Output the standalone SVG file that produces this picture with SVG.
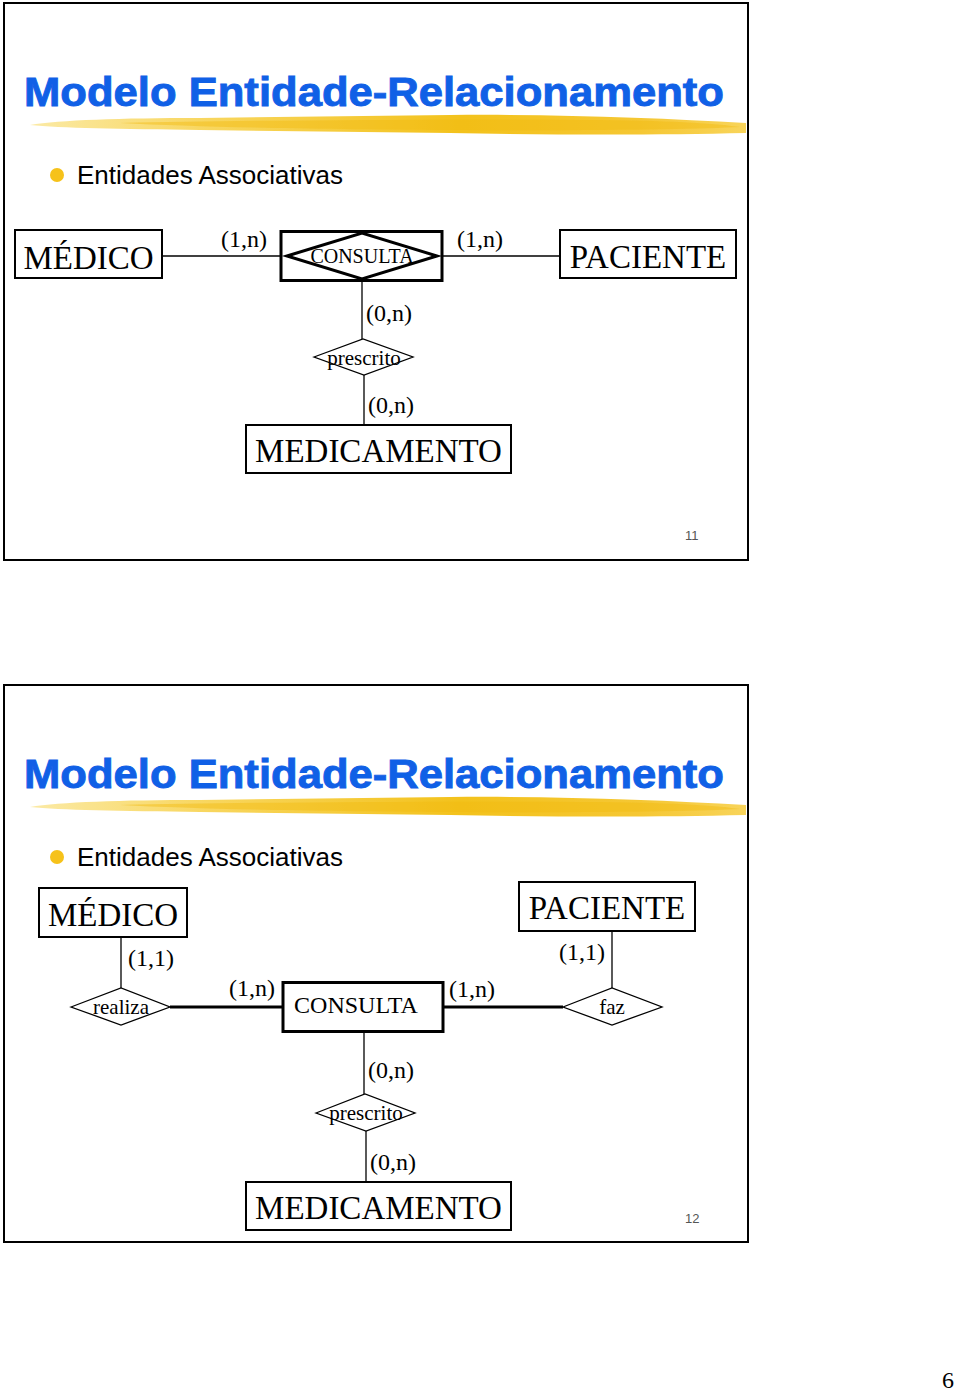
<svg xmlns="http://www.w3.org/2000/svg" width="960" height="1394" viewBox="0 0 960 1394">
<defs>
<linearGradient id="brushG" x1="0" y1="0" x2="1" y2="0">
<stop offset="0" stop-color="#fbeaa6"/>
<stop offset="0.25" stop-color="#f8d65e"/>
<stop offset="0.6" stop-color="#f3c21c"/>
<stop offset="0.85" stop-color="#f5c733"/>
<stop offset="1" stop-color="#f8d45a"/>
</linearGradient>
<g id="brush">
<path d="M30,125 C60,120 120,118 200,118 L450,115 C560,114 660,118 746,123 L746,133 C660,135 560,135 450,133 L200,130 C120,129 60,128 30,125 Z" fill="url(#brushG)"/>
<path d="M120,123 C250,120 450,119 600,120 C680,121 720,124 740,127 C700,129 600,131 450,130 C300,129 200,127 120,123 Z" fill="#f1bb10" opacity="0.45"/>
</g>
</defs>
<style>
.frame{fill:#fff;stroke:#000;stroke-width:2}
.title{font-family:"Liberation Sans",Arial,sans-serif;font-weight:bold;font-size:40px;fill:#1060e6;stroke:#1060e6;stroke-width:0.9}
.bul{font-family:"Liberation Sans",Arial,sans-serif;font-size:26px;fill:#000}
.dot{fill:#f6c21a}
.ent{fill:#fff;stroke:#000;stroke-width:2}
.entb{fill:#fff;stroke:#000;stroke-width:3}
.rel{fill:#fff;stroke:#000;stroke-width:1.3}
.relb{fill:none;stroke:#000;stroke-width:3}
.big{font-family:"Liberation Serif","Times New Roman",serif;font-size:33px;fill:#000;text-anchor:middle}
.mid{font-family:"Liberation Serif","Times New Roman",serif;font-size:21px;fill:#000;text-anchor:middle}
.card{font-family:"Liberation Serif","Times New Roman",serif;font-size:24px;fill:#000}
.ln{stroke:#000;stroke-width:1.3;fill:none}
.lnb{stroke:#000;stroke-width:3.2;fill:none}
.pg{font-family:"Liberation Sans",Arial,sans-serif;font-size:13px;fill:#555}
</style>

<!-- Slide 1 -->
<g id="slide1">
<rect class="frame" x="4" y="3" width="744" height="557"/>
<use href="#brush"/>
<text class="title" x="24" y="106" textLength="700" lengthAdjust="spacingAndGlyphs">Modelo Entidade-Relacionamento</text>
<circle class="dot" cx="57" cy="175" r="7"/>
<text class="bul" x="77" y="184">Entidades Associativas</text>
<text class="pg" x="685" y="540">11</text>
</g>

<g id="s1-connectors">
<line class="ln" x1="163" y1="256" x2="281" y2="256"/>
<line class="ln" x1="442" y1="256" x2="560" y2="256"/>
<line class="ln" x1="362" y1="281" x2="362" y2="339"/>
<line class="ln" x1="364" y1="375" x2="364" y2="425"/>
<text class="card" x="221" y="247">(1,n)</text>
<text class="card" x="457" y="247">(1,n)</text>
<text class="card" x="366" y="321">(0,n)</text>
<text class="card" x="368" y="413">(0,n)</text>
</g>

<g id="s1-medico">
<rect class="ent" x="15" y="230" width="147" height="48"/>
<text class="big" x="88.5" y="269">MÉDICO</text>
</g>
<g id="s1-consulta">
<rect class="entb" x="281" y="231.5" width="161" height="49"/>
<polygon class="relb" points="287,256 362,233 437,256 362,279"/>
<text class="mid" x="362" y="263" style="font-size:20px">CONSULTA</text>
</g>
<g id="s1-paciente">
<rect class="ent" x="560" y="230" width="176" height="48"/>
<text class="big" x="648" y="268">PACIENTE</text>
</g>
<g id="s1-prescrito">
<polygon class="rel" points="314,357 363,339 413,357 364,375"/>
<text class="mid" x="364" y="365">prescrito</text>
</g>
<g id="s1-medicamento">
<rect class="ent" x="246" y="425" width="265" height="48"/>
<text class="big" x="378.5" y="462">MEDICAMENTO</text>
</g>

<!-- Slide 2 -->
<g id="slide2">
<rect class="frame" x="4" y="685" width="744" height="557"/>
<use href="#brush" y="682"/>
<text class="title" x="24" y="788" textLength="700" lengthAdjust="spacingAndGlyphs">Modelo Entidade-Relacionamento</text>
<circle class="dot" cx="57" cy="857" r="7"/>
<text class="bul" x="77" y="866">Entidades Associativas</text>
<text class="pg" x="685" y="1223">12</text>
</g>

<g id="s2-connectors">
<line class="ln" x1="121" y1="937" x2="121" y2="988"/>
<line class="lnb" x1="170" y1="1007" x2="283" y2="1007"/>
<line class="lnb" x1="443" y1="1007" x2="563" y2="1007"/>
<line class="ln" x1="612" y1="931" x2="612" y2="988"/>
<line class="ln" x1="364" y1="1032" x2="364" y2="1094"/>
<line class="ln" x1="366" y1="1131" x2="366" y2="1182"/>
<text class="card" x="128" y="966">(1,1)</text>
<text class="card" x="229" y="996">(1,n)</text>
<text class="card" x="449" y="997">(1,n)</text>
<text class="card" x="559" y="960">(1,1)</text>
<text class="card" x="368" y="1078">(0,n)</text>
<text class="card" x="370" y="1170">(0,n)</text>
</g>

<g id="s2-medico">
<rect class="ent" x="39" y="888" width="148" height="49"/>
<text class="big" x="113" y="926">MÉDICO</text>
</g>
<g id="s2-realiza">
<polygon class="rel" points="71,1007 121,988 170,1007 121,1025"/>
<text class="mid" x="121" y="1014">realiza</text>
</g>
<g id="s2-consulta">
<rect class="entb" x="283" y="982.5" width="160" height="49"/>
<text class="mid" x="356" y="1013" style="font-size:24px">CONSULTA</text>
</g>
<g id="s2-faz">
<polygon class="rel" points="563,1007 612,988 662,1007 612,1025"/>
<text class="mid" x="612" y="1014">faz</text>
</g>
<g id="s2-paciente">
<rect class="ent" x="519" y="882" width="176" height="49"/>
<text class="big" x="607" y="919">PACIENTE</text>
</g>
<g id="s2-prescrito">
<polygon class="rel" points="316,1113 365,1094 415,1113 366,1131"/>
<text class="mid" x="366" y="1120">prescrito</text>
</g>
<g id="s2-medicamento">
<rect class="ent" x="246" y="1182" width="265" height="48"/>
<text class="big" x="378.5" y="1219">MEDICAMENTO</text>
</g>

<text x="942" y="1388" style="font-family:'Liberation Serif','Times New Roman',serif;font-size:24px;fill:#000">6</text>
</svg>
